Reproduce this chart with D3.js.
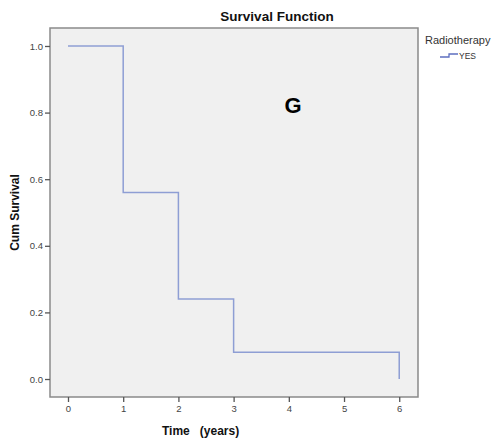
<!DOCTYPE html>
<html><head><meta charset="utf-8">
<script src="https://cdn.jsdelivr.net/npm/d3@7"></script>
<style>body{margin:0;background:#fff;} text{font-family:"Liberation Sans",Arial,sans-serif;}</style>
</head><body>
<svg id="c" width="503" height="445"></svg>
<script>
const times = [0, 1, 2, 3, 6];
const survival = [1.0, 0.56, 0.24, 0.08, 0.0];
const xTicks = [0, 1, 2, 3, 4, 5, 6];
const yTicks = [0.0, 0.2, 0.4, 0.6, 0.8, 1.0];
const seriesName = "YES";
const legendTitle = "Radiotherapy";

const svg = d3.select("#c");
const L = 50, T = 28, R = 418, B = 397;
const x = d3.scaleLinear().domain([-0.326, 6.34]).range([L, R]);
const y = d3.scaleLinear().domain([-0.054, 1.054]).range([B, T]);

svg.append("rect").attr("x", L).attr("y", T).attr("width", R - L).attr("height", B - T)
  .attr("fill", "#f0f0f0").attr("stroke", "#8a8a8a").attr("stroke-width", 1.5);

const xa = svg.append("g").attr("transform", `translate(0,${B})`)
  .call(d3.axisBottom(x).tickValues(xTicks).tickFormat(d3.format("d")).tickSize(5).tickPadding(3));
const ya = svg.append("g").attr("transform", `translate(${L},0)`)
  .call(d3.axisLeft(y).tickValues(yTicks).tickFormat(d3.format(".1f")).tickSize(5).tickPadding(2));
[xa, ya].forEach(a => {
  a.select(".domain").remove();
  a.selectAll(".tick line").attr("stroke", "#555").attr("stroke-width", 1.3);
  a.selectAll(".tick text").attr("fill", "#444").style("font-size", "9.5px").style("font-family", "Liberation Sans, Arial, sans-serif");
});

const pts = times.map((t, i) => [t, survival[i]]);
svg.append("path").datum(pts)
  .attr("d", d3.line().x(d => x(d[0])).y(d => y(d[1])).curve(d3.curveStepAfter))
  .attr("fill", "none").attr("stroke", "#8e9ed4").attr("stroke-width", 1.5);

svg.append("text").attr("x", 277).attr("y", 21).attr("text-anchor", "middle")
  .style("font-size", "13.5px").style("font-weight", "bold").attr("fill", "#111").text("Survival Function");

svg.append("text").attr("transform", `translate(19,212.5) rotate(-90)`).attr("text-anchor", "middle")
  .style("font-size", "12px").style("font-weight", "bold").attr("fill", "#111").text("Cum Survival");

svg.append("text").attr("x", 162).attr("y", 435)
  .style("font-size", "12px").style("font-weight", "bold").attr("fill", "#111")
  .attr("xml:space", "preserve").style("white-space", "pre").text("Time   (years)");

svg.append("text").attr("x", 293).attr("y", 113).attr("text-anchor", "middle")
  .style("font-size", "22px").style("font-weight", "bold").attr("fill", "#000").text("G");

svg.append("text").attr("x", 425).attr("y", 44)
  .style("font-size", "11px").attr("fill", "#333").text(legendTitle);
const lg = [[440, 57], [449, 57], [449, 54], [458, 54]];
svg.append("path").attr("d", d3.line()(lg)).attr("fill", "none").attr("stroke", "#5d6fc0").attr("stroke-width", 1.3);
svg.append("text").attr("x", 459).attr("y", 59)
  .style("font-size", "8.5px").attr("fill", "#333").text(seriesName);
</script>
</body></html>
